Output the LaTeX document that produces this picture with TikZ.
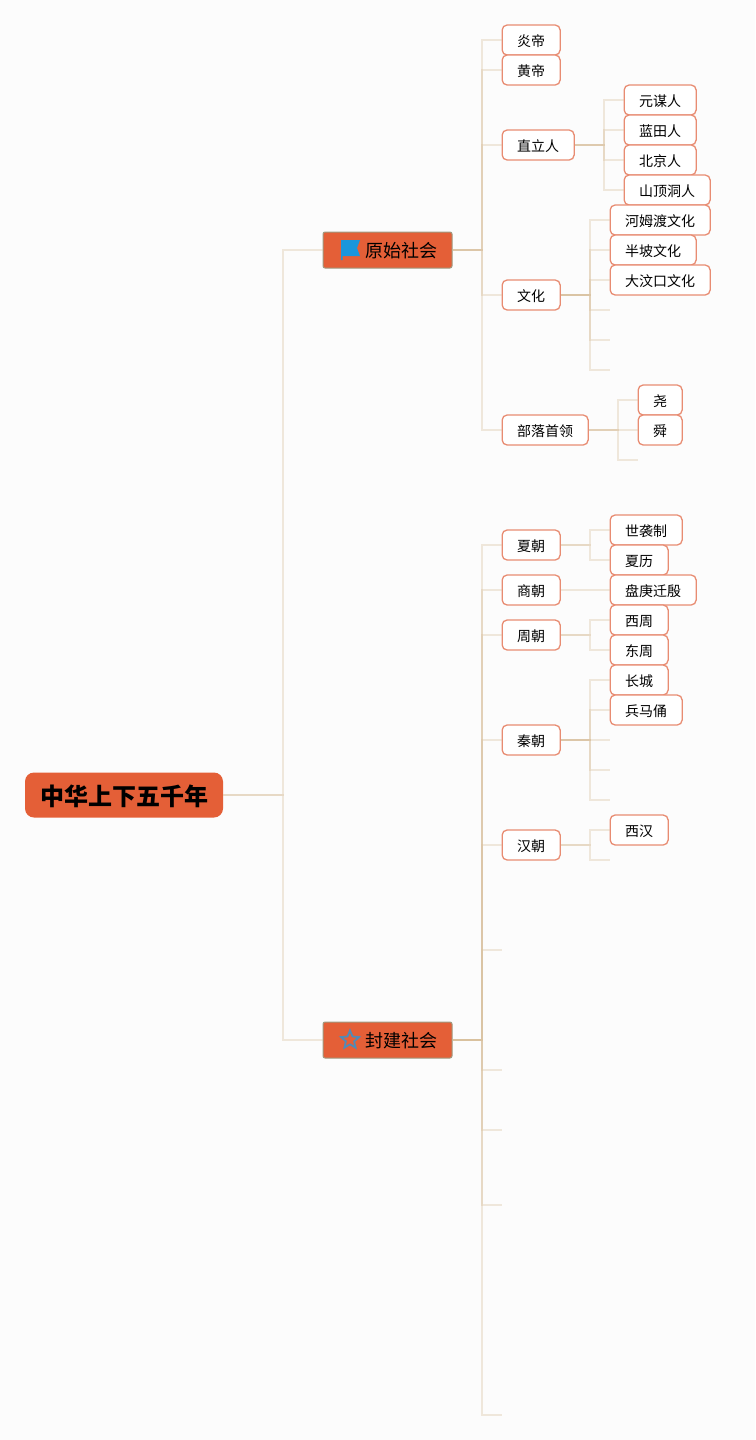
\documentclass[tikz,border=0pt]{standalone}
\usepackage{fontspec}
\setmainfont{Noto Sans CJK SC}
\usetikzlibrary{positioning, shapes.geometric}

\definecolor{pagebg}{HTML}{FCFCFC}
\definecolor{topicfill}{HTML}{E45F37}
\definecolor{topicline}{HTML}{A09A80}
\definecolor{leafline}{HTML}{E88C72}
\definecolor{linkcol}{HTML}{D9C19E}
\definecolor{flagblue}{HTML}{1A96DC}
\definecolor{starblue}{HTML}{4F8BB8}

\tikzset{
  rootnode/.style={draw=none, fill=topicfill, rounded corners=9pt, minimum width=198pt, minimum height=45pt, inner sep=0pt, text height=22pt, text depth=1pt, font=\fontsize{24pt}{26pt}\selectfont\bfseries},
  topic/.style={draw=topicline, line width=1pt, fill=topicfill, rounded corners=2pt, minimum width=129pt, minimum height=36pt, inner sep=0pt, text height=17pt, text depth=1.4pt, font=\fontsize{18pt}{20pt}\selectfont},
  leaf/.style={draw=leafline, line width=1.3pt, fill=white, rounded corners=5pt, anchor=west, minimum height=30pt, inner xsep=15pt, inner ysep=0pt, text height=13pt, text depth=1pt, font=\fontsize{14pt}{16pt}\selectfont},
  link/.style={draw=linkcol, draw opacity=.35, line width=2pt},
  elbow/.style={to path={(\tikztostart.east) -- ++(#1,0) |- (\tikztotarget)}}
}

\begin{document}
\begin{tikzpicture}[x=1pt, y=-1pt]
    \fill[pagebg] (0,0) rectangle (755,1440);

    \node[rootnode] (root) at (124,795) {中华上下五千年};
    \node[topic] (yuanshi) at (387.5,250) {\hspace*{27pt}原始社会};
    \node[topic] (fengjian) at (387.5,1040) {\hspace*{27pt}封建社会};
    \node[star, star points=5, star point ratio=2.2, draw=starblue, line width=1.8pt, minimum size=19pt, inner sep=0pt] (staricon) at (350,1040) {};
    \node[inner sep=0pt, minimum size=0pt] (flagicon) at (341,240) {};
    \fill[flagblue] (flagicon.center) -- ++(19,0) -- ++(-3,8) -- ++(3,8) -- ++(-17.5,0) -- ++(0,4) -- ++(-1.5,0) -- cycle;

    % first society
    \node[leaf] (yandi) at (501.5,40) {炎帝};
    \node[leaf] (huangdi) at (501.5,70) {黄帝};
    \node[leaf] (zhili) at (501.5,145) {直立人};
    \node[leaf] (wenhua) at (501.5,295) {文化};
    \node[leaf] (buluo) at (501.5,430) {部落首领};

    \node[leaf] (yuanmou) at (623.5,100) {元谋人};
    \node[leaf] (lantian) at (623.5,130) {蓝田人};
    \node[leaf] (beijing) at (623.5,160) {北京人};
    \node[leaf] (shanding) at (623.5,190) {山顶洞人};

    \node[leaf] (hemudu) at (609.5,220) {河姆渡文化};
    \node[leaf] (banpo) at (609.5,250) {半坡文化};
    \node[leaf] (dawenkou) at (609.5,280) {大汶口文化};
    \foreach \y/\n in {310/a, 340/b, 370/c}
      \coordinate (wen\n) at (610,\y);

    \node[leaf] (yao) at (637.5,400) {尧};
    \node[leaf] (shun) at (637.5,430) {舜};
    \coordinate (buluoend) at (638,460);

    % second society
    \node[leaf] (xia) at (501.5,545) {夏朝};
    \node[leaf] (shang) at (501.5,590) {商朝};
    \node[leaf] (zhou) at (501.5,635) {周朝};
    \node[leaf] (qin) at (501.5,740) {秦朝};
    \node[leaf] (han) at (501.5,845) {汉朝};
    \foreach \y/\n in {950/a, 1070/b, 1130/c, 1205/d, 1415/e}
      \coordinate (feng\n) at (502,\y);

    \node[leaf] (shixi) at (609.5,530) {世袭制};
    \node[leaf] (xiali) at (609.5,560) {夏历};
    \node[leaf] (pangeng) at (609.5,590) {盘庚迁殷};
    \node[leaf] (xizhou) at (609.5,620) {西周};
    \node[leaf] (dongzhou) at (609.5,650) {东周};
    \node[leaf] (changcheng) at (609.5,680) {长城};
    \node[leaf] (bingma) at (609.5,710) {兵马俑};
    \foreach \y/\n in {740/a, 770/b, 800/c}
      \coordinate (qin\n) at (610,\y);
    \node[leaf] (xihan) at (609.5,830) {西汉};
    \coordinate (hanend) at (610,860);

    \path[link]
    (root) edge [elbow=60] (yuanshi)
    (root) edge [elbow=60] (fengjian)
    ;
    \foreach \kid in {yandi, huangdi, zhili, wenhua, buluo}
      \path[link] (yuanshi) edge [elbow=29.5] (\kid);
    \foreach \kid in {yuanmou, lantian, beijing, shanding}
      \path[link] (zhili) edge [elbow=29.5] (\kid);
    \foreach \kid in {hemudu, banpo, dawenkou, wena, wenb, wenc}
      \path[link] (wenhua) edge [elbow=29.5] (\kid);
    \foreach \kid in {yao, shun, buluoend}
      \path[link] (buluo) edge [elbow=29.5] (\kid);
    \foreach \kid in {xia, shang, zhou, qin, han, fenga, fengb, fengc, fengd, fenge}
      \path[link] (fengjian) edge [elbow=29.5] (\kid);
    \foreach \kid in {shixi, xiali}
      \path[link] (xia) edge [elbow=29.5] (\kid);
    \path[link] (shang) edge [elbow=29.5] (pangeng);
    \foreach \kid in {xizhou, dongzhou}
      \path[link] (zhou) edge [elbow=29.5] (\kid);
    \foreach \kid in {changcheng, bingma, qina, qinb, qinc}
      \path[link] (qin) edge [elbow=29.5] (\kid);
    \foreach \kid in {xihan, hanend}
      \path[link] (han) edge [elbow=29.5] (\kid);
\end{tikzpicture}
\end{document}
